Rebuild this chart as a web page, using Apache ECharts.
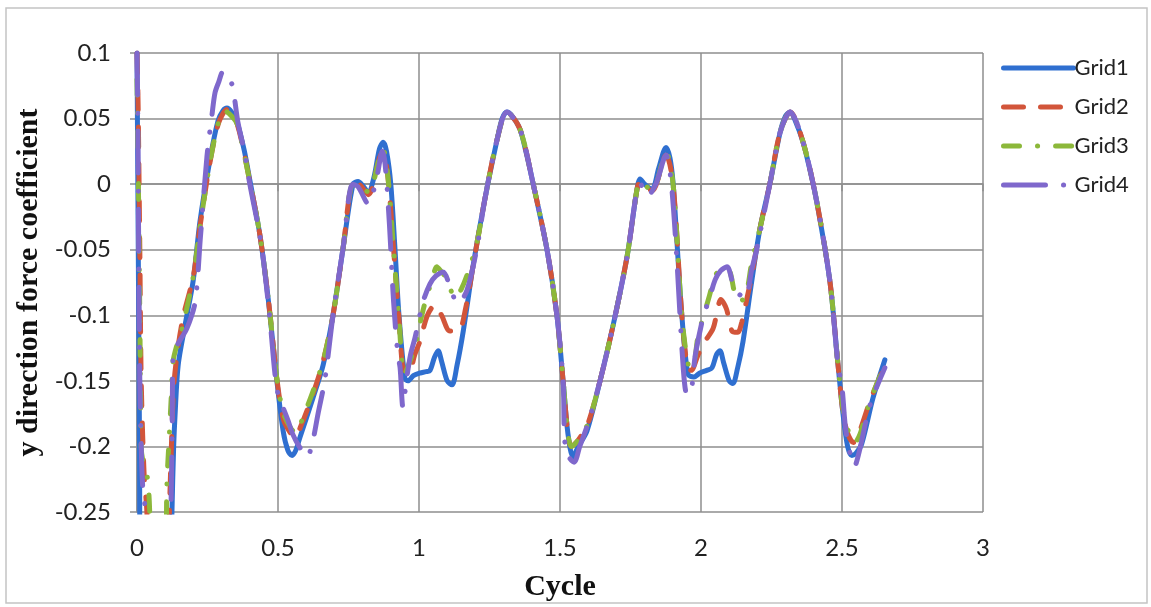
<!DOCTYPE html>
<html>
<head>
<meta charset="utf-8">
<script src="https://cdn.jsdelivr.net/npm/echarts@6/dist/echarts.min.js"></script>
<style>
  html, body { margin: 0; padding: 0; background: #fff; }
  #chart { width: 1151px; height: 607px; }
</style>
</head>
<body>
<div id="chart"></div>
<script>
  // x tick labels (cycle) and y tick labels
  var xTicks = [0, 0.5, 1, 1.5, 2, 2.5, 3];
  var yTicks = [-0.25, -0.2, -0.15, -0.1, -0.05, 0, 0.05, 0.1];
  var seriesNames = ['Grid1', 'Grid2', 'Grid3', 'Grid4'];

  // [cycle, coefficient]; values below -0.25 run off the plot
  var grid1 = [
    [0, 0.1], [0.003, 0.0], [0.006, -0.1], [0.009, -0.2], [0.012, -0.3],
    [0.12, -0.3], [0.124, -0.25], [0.13, -0.2], [0.135, -0.176], [0.146, -0.138],
    [0.17, -0.108], [0.199, -0.074], [0.223, -0.029], [0.259, 0.019], [0.287, 0.048],
    [0.305, 0.056], [0.319, 0.058], [0.335, 0.055], [0.355, 0.047], [0.38, 0.026],
    [0.401, 0.002], [0.436, -0.039], [0.465, -0.087], [0.496, -0.15], [0.518, -0.188],
    [0.535, -0.203], [0.55, -0.207], [0.563, -0.203], [0.578, -0.193], [0.624, -0.163],
    [0.66, -0.138], [0.695, -0.1], [0.73, -0.05], [0.766, 0.0], [0.784, 0.002],
    [0.8, -0.001], [0.82, -0.006], [0.84, 0.005], [0.86, 0.027], [0.873, 0.032],
    [0.885, 0.025], [0.9, 0.0], [0.915, -0.05], [0.929, -0.1], [0.95, -0.148],
    [0.961, -0.15], [0.98, -0.146], [1.004, -0.144], [1.025, -0.143], [1.039, -0.142],
    [1.055, -0.132], [1.068, -0.127], [1.08, -0.135], [1.1, -0.15], [1.117, -0.153],
    [1.135, -0.138], [1.157, -0.112], [1.192, -0.062], [1.234, -0.011], [1.277, 0.034],
    [1.295, 0.05], [1.312, 0.055], [1.33, 0.052], [1.358, 0.042], [1.38, 0.024],
    [1.404, 0.001], [1.454, -0.05], [1.489, -0.1], [1.511, -0.15], [1.528, -0.19],
    [1.546, -0.208], [1.565, -0.2], [1.596, -0.188], [1.642, -0.15], [1.688, -0.108],
    [1.738, -0.055], [1.773, -0.004], [1.784, 0.004], [1.8, 0.0], [1.826, -0.004],
    [1.85, 0.012], [1.876, 0.028], [1.89, 0.02], [1.901, 0.001], [1.915, -0.045],
    [1.932, -0.1], [1.954, -0.145], [1.975, -0.147], [1.996, -0.144], [2.02, -0.142],
    [2.039, -0.14], [2.055, -0.13], [2.067, -0.127], [2.08, -0.136], [2.1, -0.15],
    [2.113, -0.152], [2.13, -0.14], [2.149, -0.12], [2.18, -0.074], [2.209, -0.034],
    [2.245, 0.001], [2.28, 0.039], [2.3, 0.052], [2.316, 0.055], [2.335, 0.048],
    [2.362, 0.032], [2.385, 0.012], [2.411, -0.014], [2.457, -0.074], [2.486, -0.138],
    [2.504, -0.176], [2.52, -0.2], [2.535, -0.207], [2.55, -0.205], [2.57, -0.198],
    [2.61, -0.163], [2.652, -0.134]
  ];

  var grid2 = [
    [0, 0.1], [0.004, 0.06], [0.01, -0.05], [0.015, -0.15], [0.025, -0.22],
    [0.035, -0.25], [0.04, -0.3], [0.11, -0.3], [0.115, -0.25], [0.122, -0.2],
    [0.13, -0.155], [0.145, -0.125], [0.165, -0.1], [0.2, -0.07], [0.225, -0.03],
    [0.26, 0.018], [0.29, 0.047], [0.32, 0.057], [0.355, 0.046], [0.4, 0.002],
    [0.436, -0.039], [0.467, -0.09], [0.497, -0.15], [0.52, -0.18], [0.545, -0.19],
    [0.56, -0.193], [0.58, -0.185], [0.624, -0.16], [0.66, -0.135], [0.695, -0.1],
    [0.73, -0.05], [0.766, 0.0], [0.784, 0.0], [0.82, -0.008], [0.86, 0.02],
    [0.872, 0.025], [0.89, 0.005], [0.91, -0.05], [0.928, -0.1], [0.948, -0.143],
    [0.965, -0.143], [0.985, -0.13], [1.003, -0.12], [1.03, -0.1], [1.057, -0.092],
    [1.08, -0.1], [1.11, -0.112], [1.14, -0.112], [1.165, -0.095], [1.192, -0.062],
    [1.234, -0.011], [1.277, 0.034], [1.312, 0.055], [1.358, 0.042], [1.404, 0.001],
    [1.454, -0.05], [1.489, -0.1], [1.511, -0.15], [1.528, -0.19], [1.54, -0.2],
    [1.565, -0.195], [1.6, -0.182], [1.642, -0.15], [1.688, -0.108], [1.738, -0.055],
    [1.773, -0.004], [1.784, 0.002], [1.826, -0.005], [1.876, 0.022], [1.901, 0.0],
    [1.932, -0.1], [1.952, -0.14], [1.965, -0.142], [1.99, -0.13], [2.014, -0.12],
    [2.043, -0.11], [2.06, -0.094], [2.07, -0.088], [2.09, -0.095], [2.11, -0.112],
    [2.13, -0.113], [2.145, -0.105], [2.165, -0.085], [2.18, -0.07], [2.209, -0.034],
    [2.245, 0.001], [2.28, 0.039], [2.316, 0.055], [2.362, 0.032], [2.411, -0.014],
    [2.457, -0.074], [2.486, -0.138], [2.504, -0.175], [2.52, -0.19], [2.54, -0.197],
    [2.56, -0.19], [2.6, -0.165], [2.652, -0.138]
  ];

  var grid3 = [
    [0, 0.08], [0.005, 0.0], [0.01, -0.1], [0.015, -0.2], [0.02, -0.21],
    [0.03, -0.215], [0.04, -0.23], [0.045, -0.25], [0.05, -0.3], [0.1, -0.3],
    [0.106, -0.229], [0.115, -0.19], [0.122, -0.16], [0.128, -0.135], [0.145, -0.12],
    [0.16, -0.11], [0.2, -0.07], [0.225, -0.03], [0.26, 0.018], [0.29, 0.048],
    [0.31, 0.056], [0.335, 0.052], [0.355, 0.046], [0.4, 0.002], [0.436, -0.039],
    [0.467, -0.09], [0.497, -0.15], [0.52, -0.175], [0.545, -0.186], [0.565, -0.19],
    [0.585, -0.18], [0.624, -0.158], [0.66, -0.135], [0.695, -0.1], [0.73, -0.05],
    [0.766, 0.0], [0.784, 0.0], [0.82, -0.006], [0.86, 0.02], [0.872, 0.027],
    [0.89, 0.005], [0.91, -0.05], [0.928, -0.1], [0.948, -0.145], [0.968, -0.135],
    [0.99, -0.12], [1.01, -0.1], [1.032, -0.082], [1.045, -0.075], [1.063, -0.063],
    [1.08, -0.067], [1.099, -0.072], [1.128, -0.087], [1.15, -0.08], [1.174, -0.067],
    [1.205, -0.045], [1.234, -0.011], [1.277, 0.034], [1.312, 0.055], [1.358, 0.042],
    [1.404, 0.001], [1.454, -0.05], [1.489, -0.1], [1.511, -0.15], [1.528, -0.19],
    [1.54, -0.2], [1.565, -0.195], [1.6, -0.182], [1.642, -0.15], [1.688, -0.108],
    [1.738, -0.055], [1.773, -0.004], [1.784, 0.002], [1.826, -0.005], [1.876, 0.024],
    [1.901, 0.0], [1.932, -0.1], [1.955, -0.138], [1.97, -0.14], [1.99, -0.115],
    [2.01, -0.1], [2.03, -0.085], [2.05, -0.07], [2.07, -0.065], [2.09, -0.064],
    [2.103, -0.067], [2.131, -0.089], [2.156, -0.087], [2.18, -0.06], [2.209, -0.034],
    [2.245, 0.001], [2.28, 0.039], [2.316, 0.055], [2.362, 0.032], [2.411, -0.014],
    [2.457, -0.074], [2.486, -0.138], [2.504, -0.172], [2.525, -0.19], [2.545, -0.197],
    [2.565, -0.19], [2.6, -0.165], [2.652, -0.138]
  ];

  var grid4 = [
    [0, 0.1], [0.003, 0.05], [0.006, -0.05], [0.01, -0.15], [0.015, -0.2],
    [0.02, -0.23], [0.03, -0.25], [0.035, -0.3], [0.11, -0.3], [0.12, -0.25],
    [0.125, -0.18], [0.128, -0.13], [0.15, -0.12], [0.177, -0.11], [0.206, -0.09],
    [0.225, -0.04], [0.248, 0.021], [0.266, 0.053], [0.277, 0.07], [0.29, 0.078],
    [0.305, 0.086], [0.32, 0.08], [0.337, 0.076], [0.358, 0.047], [0.38, 0.025],
    [0.4, 0.0], [0.44, -0.045], [0.47, -0.1], [0.495, -0.155], [0.514, -0.168],
    [0.535, -0.18], [0.553, -0.191], [0.575, -0.2], [0.603, -0.208], [0.624, -0.195],
    [0.642, -0.175], [0.667, -0.148], [0.695, -0.1], [0.73, -0.05], [0.765, 0.0],
    [0.784, -0.002], [0.82, -0.015], [0.85, 0.005], [0.87, 0.025], [0.88, 0.015],
    [0.895, -0.03], [0.91, -0.09], [0.925, -0.13], [0.933, -0.14], [0.943, -0.17],
    [0.955, -0.15], [0.97, -0.13], [0.986, -0.117], [1.014, -0.09], [1.039, -0.076],
    [1.06, -0.07], [1.085, -0.067], [1.117, -0.083], [1.138, -0.091], [1.17, -0.081],
    [1.205, -0.049], [1.234, -0.011], [1.277, 0.034], [1.312, 0.055], [1.358, 0.042],
    [1.404, 0.001], [1.454, -0.05], [1.489, -0.1], [1.511, -0.15], [1.52, -0.203],
    [1.55, -0.212], [1.57, -0.2], [1.6, -0.182], [1.642, -0.15], [1.688, -0.108],
    [1.738, -0.055], [1.773, -0.004], [1.784, 0.0], [1.81, -0.009], [1.84, 0.0],
    [1.876, 0.022], [1.895, 0.0], [1.915, -0.06], [1.937, -0.14], [1.95, -0.16],
    [1.961, -0.16], [1.98, -0.13], [2.007, -0.102], [2.03, -0.087], [2.05, -0.073],
    [2.07, -0.066], [2.092, -0.063], [2.12, -0.08], [2.156, -0.087], [2.18, -0.065],
    [2.198, -0.049], [2.245, 0.001], [2.28, 0.039], [2.316, 0.055], [2.362, 0.032],
    [2.411, -0.014], [2.457, -0.074], [2.486, -0.138], [2.5, -0.155], [2.515, -0.19],
    [2.545, -0.215], [2.56, -0.205], [2.6, -0.168], [2.652, -0.14]
  ];

  var myChart = echarts.init(document.getElementById('chart'));
  var gridColor = '#8e8e8e';
  var option = {
    animation: false,
    backgroundColor: '#fff',
    color: ['#2f6fd0', '#d2553a', '#8cb83a', '#7f68cc'],
    graphic: [{
      type: 'rect',
      shape: { x: 6, y: 8, width: 1141, height: 595 },
      style: { fill: 'none', stroke: '#c4c4c4', lineWidth: 1.5 }
    }],
    grid: {
      left: 137,
      right: 168,
      top: 53,
      bottom: 92
    },
    legend: {
      orient: 'vertical',
      left: 996,
      top: 52,
      itemWidth: 70,
      itemHeight: 10,
      itemGap: 17,
      data: seriesNames,
      lineStyle: { width: 5 },
      itemStyle: { opacity: 0 },
      textStyle: {
        fontFamily: 'Lato',
        fontSize: 22,
        color: '#222',
        padding: [0, 0, 0, -4]
      }
    },
    xAxis: {
      type: 'value',
      min: xTicks[0],
      max: xTicks[xTicks.length - 1],
      interval: 0.5,
      name: 'Cycle',
      nameLocation: 'middle',
      nameGap: 60,
      nameTextStyle: {
        fontFamily: 'Liberation Serif',
        fontWeight: 'bold',
        fontSize: 30,
        color: '#111'
      },
      axisLine: { lineStyle: { color: gridColor, width: 1.5 } },
      axisTick: { show: true, length: 7, lineStyle: { color: gridColor, width: 1.5 } },
      axisLabel: {
        margin: 24,
        fontFamily: 'Lato',
        fontSize: 24,
        color: '#222'
      },
      splitLine: { show: true, lineStyle: { color: gridColor, width: 1.5 } }
    },
    yAxis: {
      type: 'value',
      min: yTicks[0],
      max: yTicks[yTicks.length - 1],
      interval: 0.05,
      name: 'y direction force coefficient',
      nameLocation: 'middle',
      nameGap: 92,
      nameTextStyle: {
        fontFamily: 'Liberation Serif',
        fontWeight: 'bold',
        fontSize: 30,
        color: '#111'
      },
      axisLine: { show: true, lineStyle: { color: gridColor, width: 1.5 } },
      axisTick: { show: true, length: 7, lineStyle: { color: gridColor, width: 1.5 } },
      axisLabel: {
        margin: 26,
        fontFamily: 'Lato',
        fontSize: 24,
        color: '#222'
      },
      splitLine: { show: true, lineStyle: { color: gridColor, width: 1.5 } }
    },
    series: [
      {
        name: 'Grid1',
        type: 'line',
        data: grid1,
        symbol: 'none',
        smooth: 0.3,
        lineStyle: { width: 5, cap: 'round' }
      },
      {
        name: 'Grid2',
        type: 'line',
        data: grid2,
        symbol: 'none',
        smooth: 0.3,
        lineStyle: { width: 5, type: [20, 17], cap: 'round' }
      },
      {
        name: 'Grid3',
        type: 'line',
        data: grid3,
        symbol: 'none',
        smooth: 0.3,
        lineStyle: { width: 5, type: [16, 18, 0.1, 18], cap: 'round' }
      },
      {
        name: 'Grid4',
        type: 'line',
        data: grid4,
        symbol: 'none',
        smooth: 0.3,
        lineStyle: { width: 5, type: [42, 18, 0.1, 18], cap: 'round' }
      }
    ]
  };
  myChart.setOption(option);
</script>
</body>
</html>
